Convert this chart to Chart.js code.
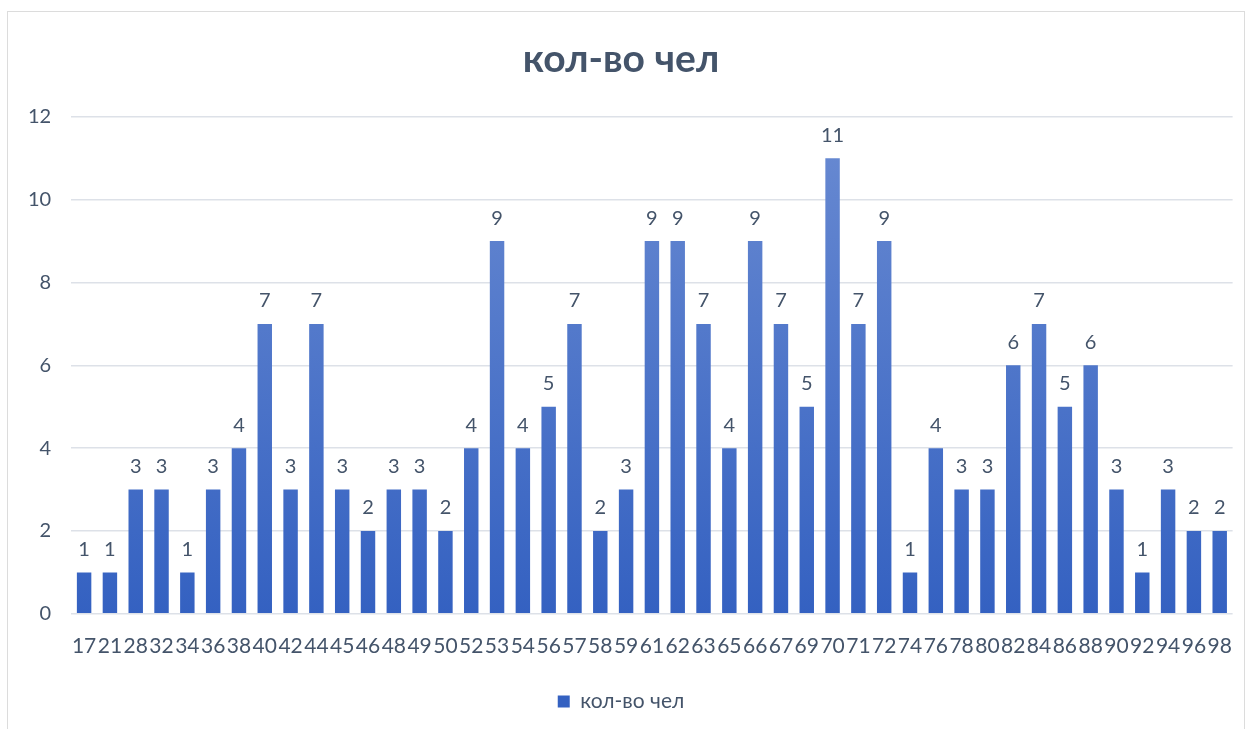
<!DOCTYPE html>
<html>
<head>
<meta charset="utf-8">
<script src="https://cdn.jsdelivr.net/npm/chart.js@4"></script>
<style>
  body { margin: 0; background: #fff; }
  #wrap { position: absolute; left: 7px; top: 11px; width: 1238px; height: 730px; border: 1px solid #dcdcdc; box-sizing: border-box; }
</style>
</head>
<body>
<div id="wrap"><canvas id="chart"></canvas></div>
<script>
// ages and counts
const ages = ["17","21","28","32","34","36","38","40","42","44","45","46","48","49","50","52","53","54","56","57","58","59","61","62","63","65","66","67","69","70","71","72","74","76","78","80","82","84","86","88","90","92","94","96","98"];
const counts = [1,1,3,3,1,3,4,7,3,7,3,2,3,3,2,4,9,4,5,7,2,3,9,9,7,4,9,7,5,11,7,9,1,4,3,3,6,7,5,6,3,1,3,2,2];
const yTicks = [0,2,4,6,8,10,12];

const textColor = "#44546a";

// gradient fill like the office chart
function barFill(ctx) {
  const area = ctx.chart.chartArea;
  if (!area) return "#4472c4";
  const g = ctx.chart.ctx.createLinearGradient(0, area.top, 0, area.bottom);
  g.addColorStop(0, "#6a8bd2");
  g.addColorStop(1, "#3461c1");
  return g;
}

// value labels over each bar
const valueLabels = {
  id: "valueLabels",
  afterDatasetsDraw(chart) {
    const c = chart.ctx;
    const meta = chart.getDatasetMeta(0);
    c.save();
    c.font = "20px Lato";
    c.fillStyle = textColor;
    c.textAlign = "center";
    c.textBaseline = "bottom";
    meta.data.forEach((bar, i) => {
      c.fillText(counts[i], bar.x, bar.y - 13);
    });
    c.restore();
  }
};

new Chart(document.getElementById("chart"), {
  type: "bar",
  data: {
    labels: ages,
    datasets: [{
      label: "кол-во чел",
      data: counts,
      backgroundColor: barFill,
      barPercentage: 0.56,
      categoryPercentage: 1
    }]
  },
  options: {
    responsive: true,
    maintainAspectRatio: false,
    animation: false,
    layout: { padding: { left: 0, right: 10, top: 0, bottom: 18 } },
    plugins: {
      title: {
        display: true,
        text: "кол-во чел",
        color: textColor,
        font: { family: "Lato", size: 39, weight: "bold" },
        padding: { top: 24, bottom: 34 }
      },
      legend: {
        position: "bottom",
        labels: {
          color: textColor,
          font: { family: "Lato", size: 21 },
          boxWidth: 12,
          boxHeight: 12,
          padding: 20
        }
      },
      tooltip: { enabled: false }
    },
    scales: {
      x: {
        grid: { display: false },
        border: { display: false },
        ticks: {
          color: textColor,
          font: { family: "Lato", size: 21 },
          autoSkip: false,
          maxRotation: 0,
          padding: 12
        }
      },
      y: {
        min: 0,
        max: 12,
        afterBuildTicks(axis) { axis.ticks = yTicks.map(v => ({ value: v })); },
        grid: { color: "#dde1e8", lineWidth: 1.5, drawTicks: false },
        border: { display: false },
        ticks: {
          color: textColor,
          font: { family: "Lato", size: 20 },
          padding: 20
        }
      }
    }
  },
  plugins: [valueLabels]
});
</script>
</body>
</html>
